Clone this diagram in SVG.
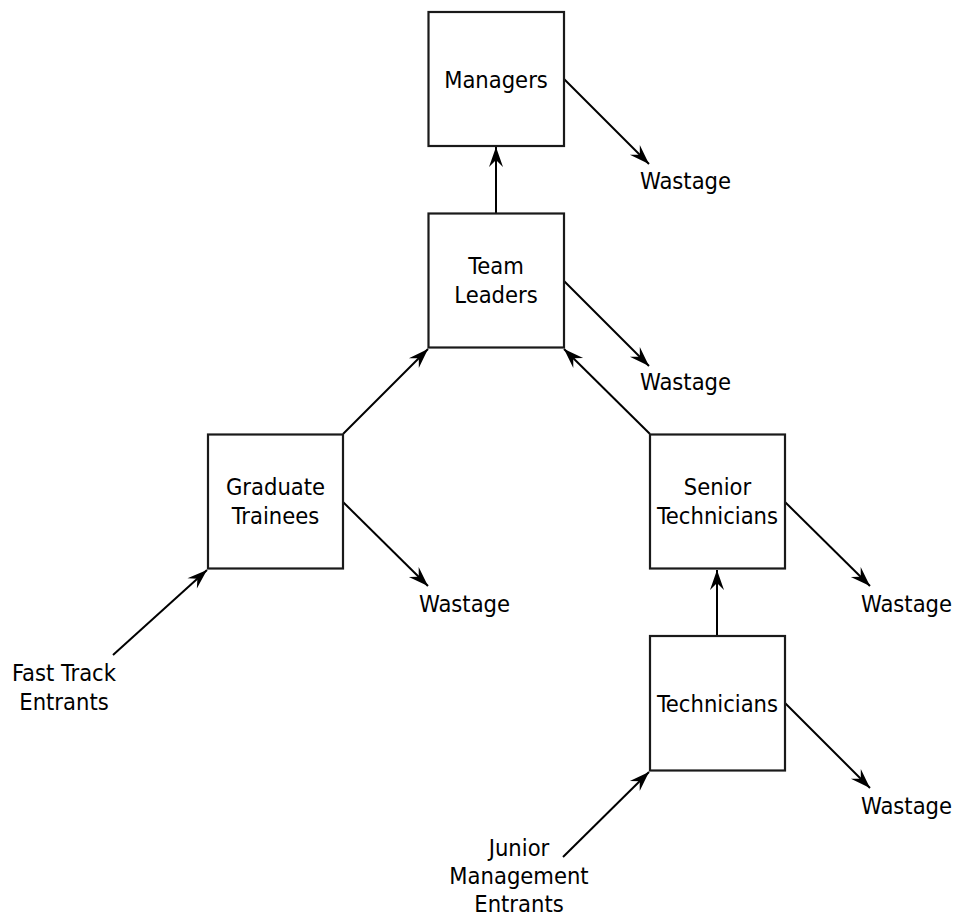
<svg xmlns="http://www.w3.org/2000/svg" width="955" height="920" viewBox="0 0 955 920">
<style>
.box{fill:#fff;stroke:#1a1a1a;stroke-width:2.2}
.t{font-family:"DejaVu Sans Condensed","DejaVu Sans",sans-serif;font-stretch:condensed;font-size:23.5px;fill:#000}
.c{text-anchor:middle}
.ln{stroke:#000;stroke-width:2;fill:none;marker-end:url(#ah)}
</style>
<defs>
<marker id="ah" markerUnits="userSpaceOnUse" viewBox="-21 -8 22 16" refX="0" refY="0" markerWidth="22" markerHeight="16" orient="auto">
<path d="M-20,-7 L0,0 L-20,7 L-13,0 Z" fill="#000"/>
</marker>
</defs>
<rect width="955" height="920" fill="#fff"/>
<g id="connectors">
<line class="ln" x1="496" y1="213" x2="496" y2="147"/>
<line class="ln" x1="564" y1="79" x2="649" y2="164"/>
<line class="ln" x1="564" y1="281" x2="649" y2="366"/>
<line class="ln" x1="343" y1="434" x2="428" y2="349"/>
<line class="ln" x1="650" y1="434" x2="564" y2="349"/>
<line class="ln" x1="343" y1="502" x2="428" y2="586"/>
<line class="ln" x1="113" y1="655" x2="207" y2="570"/>
<line class="ln" x1="785" y1="502" x2="870" y2="586"/>
<line class="ln" x1="717" y1="636" x2="717" y2="570"/>
<line class="ln" x1="785" y1="703" x2="870" y2="788"/>
<line class="ln" x1="563" y1="857" x2="649" y2="772"/>
</g>
<g id="managers">
<rect class="box" x="428.5" y="12" width="135.5" height="134"/>
<text class="t c" x="496" y="88">Managers</text>
</g>
<g id="team-leaders">
<rect class="box" x="428.5" y="213.5" width="135.5" height="134"/>
<text class="t c" x="496" y="274">Team</text>
<text class="t c" x="496" y="303">Leaders</text>
</g>
<g id="graduate-trainees">
<rect class="box" x="208" y="434.5" width="135" height="134"/>
<text class="t c" x="275.5" y="495">Graduate</text>
<text class="t c" x="275.5" y="524">Trainees</text>
</g>
<g id="senior-technicians">
<rect class="box" x="650" y="434.5" width="135" height="134"/>
<text class="t c" x="717.5" y="495">Senior</text>
<text class="t c" x="717.5" y="524">Technicians</text>
</g>
<g id="technicians">
<rect class="box" x="650" y="636" width="135" height="134.5"/>
<text class="t c" x="717.5" y="712">Technicians</text>
</g>
<g id="wastage-managers"><text class="t" x="640" y="189">Wastage</text></g>
<g id="wastage-team-leaders"><text class="t" x="640" y="390">Wastage</text></g>
<g id="wastage-graduate"><text class="t" x="419" y="612">Wastage</text></g>
<g id="wastage-senior"><text class="t" x="861" y="612">Wastage</text></g>
<g id="wastage-technicians"><text class="t" x="861" y="814">Wastage</text></g>
<g id="fast-track-entrants">
<text class="t c" x="64" y="681">Fast Track</text>
<text class="t c" x="64" y="710">Entrants</text>
</g>
<g id="junior-management-entrants">
<text class="t c" x="519" y="856">Junior</text>
<text class="t c" x="519" y="884">Management</text>
<text class="t c" x="519" y="912">Entrants</text>
</g>
</svg>
